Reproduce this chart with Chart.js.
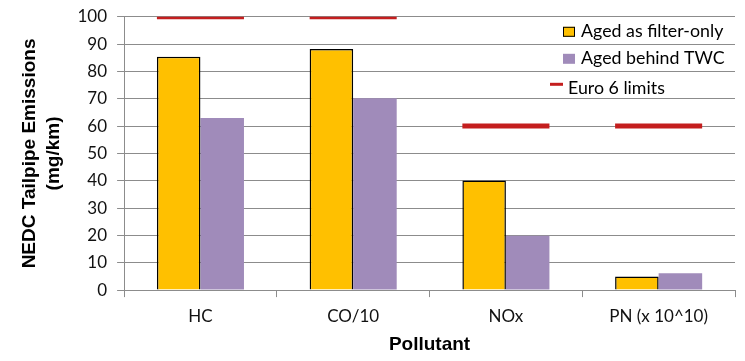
<!DOCTYPE html>
<html><head><meta charset="utf-8">
<script src="https://cdn.jsdelivr.net/npm/chart.js@4.4.1/dist/chart.umd.min.js"></script>
<style>html,body{margin:0;padding:0;background:#fff}#wrap{width:745px;height:361px;position:relative}</style>
</head><body><div id="wrap"><canvas id="c" width="745" height="361"></canvas></div>
<script>
const categories = ['HC', 'CO/10', 'NOx', 'PN (x 10^10)'];
const filterOnly = [85.4, 88.2, 40.1, 5.0];
const behindTWC = [63.0, 70.2, 19.9, 6.2];
const euro6Limits = [100, 100, 60, 60];
const seriesNames = ['Aged as filter-only', 'Aged behind TWC', 'Euro 6 limits'];
const yAxisTitle = ['NEDC Tailpipe Emissions', '(mg/km)'];
const xAxisTitle = 'Pollutant';
const yMin = 0, yMax = 100, yStep = 10;

const COLORS = { yellow: '#FFC000', purple: '#A08BBA', red: '#C41E1E', grid: '#8C8C8C' };
const GROUP_FRACTION = 0.57;

// Limit markers: a line controller whose wide marker points do not reserve layout padding
class LimitController extends Chart.LineController {
  getMaxOverflow() { return 0; }
}
LimitController.id = 'limitLine';
LimitController.defaults = Object.assign({}, Chart.LineController.defaults);
Chart.register(LimitController);

const legendPlugin = {
  id: 'boxLegend',
  afterDraw(chart) {
    const ctx = chart.ctx, a = chart.chartArea;
    const ds = chart.data.datasets;
    ctx.save();
    ctx.font = '17.8px Lato';
    ctx.fillStyle = '#000';
    ctx.textBaseline = 'alphabetic';
    const bx = a.right - 172;
    ctx.fillStyle = ds[0].backgroundColor;
    ctx.fillRect(bx, a.top + 10, 12, 10);
    ctx.strokeStyle = '#000'; ctx.lineWidth = 1;
    ctx.strokeRect(bx + 0.5, a.top + 10.5, 11, 9);
    ctx.fillStyle = '#000';
    ctx.fillText(ds[0].label, bx + 18, a.top + 20);
    ctx.fillStyle = ds[1].backgroundColor;
    ctx.fillRect(bx, a.top + 37, 12, 10);
    ctx.fillStyle = '#000';
    ctx.fillText(ds[1].label, bx + 18, a.top + 47.6);
    ctx.strokeStyle = ds[2].pointBorderColor; ctx.lineWidth = 3;
    ctx.beginPath(); ctx.moveTo(bx - 13, a.top + 67.5); ctx.lineTo(bx, a.top + 67.5); ctx.stroke();
    ctx.fillStyle = '#000';
    ctx.fillText(ds[2].label, bx + 5, a.top + 77.3);
    ctx.restore();
  }
};

const halfGroup = (ctx) => { const x = ctx.chart.scales.x; return x ? (x.width / categories.length) * GROUP_FRACTION / 2 : 40; };

new Chart(document.getElementById('c'), {
  type: 'bar',
  data: {
    labels: categories,
    datasets: [
      { label: seriesNames[0], data: filterOnly, backgroundColor: COLORS.yellow, borderColor: '#000', borderWidth: 1.5, borderSkipped: 'start', order: 2 },
      { label: seriesNames[1], data: behindTWC, backgroundColor: COLORS.purple, borderWidth: 0, order: 2 },
      { type: 'limitLine', label: seriesNames[2], data: euro6Limits, showLine: false, pointStyle: 'line',
        pointBorderColor: COLORS.red, pointBackgroundColor: COLORS.red, pointBorderWidth: 5, order: 1,
        pointRadius: halfGroup, pointHoverRadius: halfGroup }
    ]
  },
  options: {
    responsive: false,
    animation: false,
    events: [],
    layout: { autoPadding: false, padding: { top: 16.7, right: 10, left: 18, bottom: 0.5 } },
    datasets: { bar: { barPercentage: 1, categoryPercentage: GROUP_FRACTION } },
    plugins: { legend: { display: false }, tooltip: { enabled: false } },
    scales: {
      x: {
        grid: { display: true, drawOnChartArea: false, drawTicks: true, tickLength: 7, color: COLORS.grid, offset: true },
        border: { display: true, color: COLORS.grid, width: 1 },
        ticks: { font: { family: 'Lato', size: 17 }, color: '#111', padding: 9, maxRotation: 0 },
        title: { display: true, text: xAxisTitle, font: { family: 'Liberation Sans', size: 19, weight: 'bold', lineHeight: 1.0 }, color: '#000', padding: { top: 0, bottom: 6 } }
      },
      y: {
        min: yMin, max: yMax,
        grid: { color: COLORS.grid, tickLength: 7, lineWidth: 1 },
        border: { display: true, color: COLORS.grid, width: 1 },
        ticks: { stepSize: yStep, font: { family: 'Lato', size: 17, lineHeight: 0.8 }, color: '#111', padding: 10 },
        title: { display: true, text: yAxisTitle, font: { family: 'Liberation Sans', size: 19, weight: 'bold', lineHeight: 1.25 }, color: '#000', padding: { top: 0, bottom: 2 } }
      }
    }
  },
  plugins: [legendPlugin]
});
</script></body></html>
